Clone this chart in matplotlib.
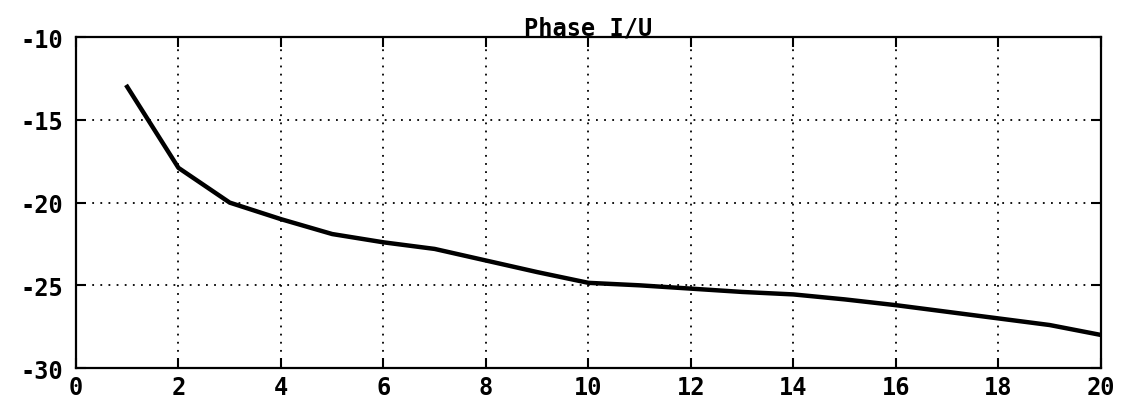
import matplotlib
matplotlib.use("Agg")
import matplotlib.pyplot as plt

x_values = [1, 2, 3, 4, 5, 6, 7, 8, 9, 10, 11, 12, 13, 14, 15, 16, 17, 18, 19, 20]
phase_values = [-13.0, -17.9, -20.0, -21.0, -21.9, -22.4, -22.8, -23.5, -24.2, -24.85,
                -25.0, -25.2, -25.4, -25.55, -25.85, -26.2, -26.6, -27.0, -27.4, -28.0]
x_ticks = [0, 2, 4, 6, 8, 10, 12, 14, 16, 18, 20]
y_ticks = [-30, -25, -20, -15, -10]
title = "Phase I/U"

font = {"family": "DejaVu Sans Mono", "weight": "bold", "size": 17}

fig = plt.figure(figsize=(11.22, 4.02), dpi=100)
ax = fig.add_axes([0.0677, 0.082, 0.9135, 0.823])
ax.plot(x_values, phase_values, color="black", linewidth=3.2, solid_joinstyle="round")
ax.set_xlim(0, 20)
ax.set_ylim(-30, -10)
ax.set_xticks(x_ticks)
ax.set_yticks(y_ticks)
ax.set_xticklabels([str(t) for t in x_ticks], fontdict=font)
ax.set_yticklabels([str(t) for t in y_ticks], fontdict=font)
ax.tick_params(direction="in", length=7, width=1.5, top=True, right=True, colors="black")
ax.tick_params(axis="x", pad=5)
ax.tick_params(axis="y", pad=9)
ax.grid(True, color="black", linestyle=(0, (1, 3.5)), linewidth=1.3)
for s in ax.spines.values():
    s.set_linewidth(1.6)
ax.set_title(title, fontdict=font, pad=2)
fig.savefig("out.png", dpi=100, facecolor="white")
